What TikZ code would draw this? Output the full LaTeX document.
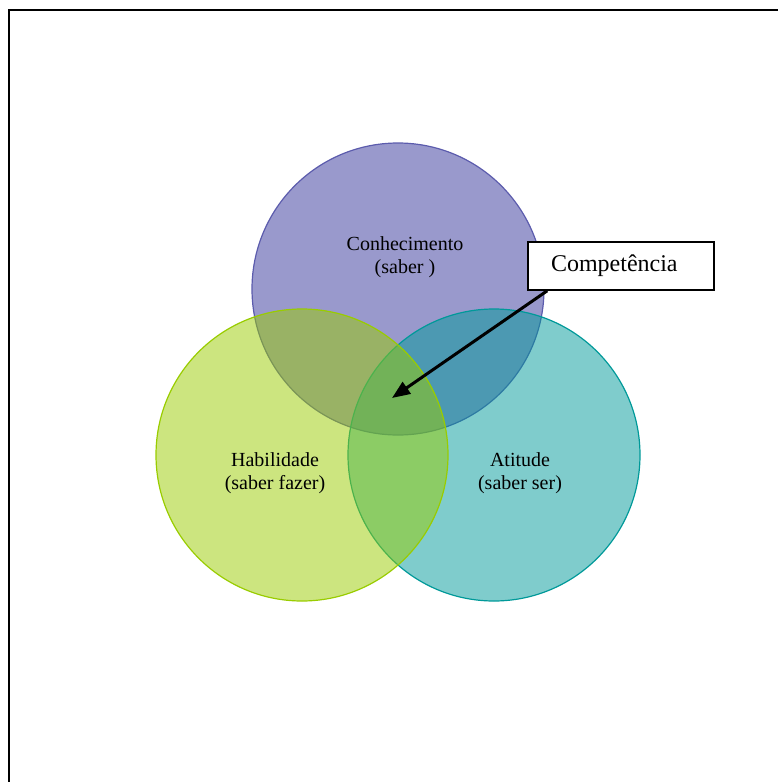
\documentclass[tikz,border=0pt]{standalone}
\usepackage{fontspec}
\setmainfont{Liberation Serif}
\usepackage{xcolor}
\usepackage{tikz}
\usetikzlibrary{shapes.geometric, arrows.meta, positioning}
\definecolor{roxo}{HTML}{333399}
\definecolor{verde}{HTML}{99CC00}
\definecolor{azulverde}{HTML}{009999}
\tikzset{
    conjunto/.style={circle, inner sep=0pt, minimum size=146pt, fill opacity=0.5, line width=0.6pt},
    rotulo/.style={align=center, font=\fontsize{10}{11.5}\selectfont},
    caixa/.style={rectangle, draw, line width=0.8pt, fill=white, text width=70pt, inner xsep=11.5pt, align=left, minimum height=24pt, font=\fontsize{12}{14}\selectfont},
    arrow/.style={-{Triangle[length=9pt, width=7pt]}, line width=1.5pt}
}
\begin{document}
\begin{tikzpicture}[x=0.5pt, y=-0.5pt]
            \useasboundingbox (0,0) rectangle (778,782);
            \draw[line width=1pt] (9,782) -- (9,10) -- (778,10);

            \node (conhec) [conjunto, fill=roxo, draw=roxo!80] at (398,289) {};
            \node (atitude) [conjunto, fill=azulverde, draw=azulverde] at (494,455) {};
            \node (habil) [conjunto, fill=verde, draw=verde] at (302,455) {};

            \node (conhecTxt) [rotulo] at (405,257) {Conhecimento\\(saber )};
            \node (habilTxt) [rotulo] at (275,473) {Habilidade\\(saber fazer)};
            \node (atitudeTxt) [rotulo] at (520,473) {Atitude\\(saber ser)};

            \node (comp) [caixa] at (621,266) {Competência};
            \coordinate (alvo) at (392,398);
            \coordinate (saida) at ([xshift=10pt]comp.south west);

            \draw[arrow] (saida) -- (alvo);
        \end{tikzpicture}
\end{document}
